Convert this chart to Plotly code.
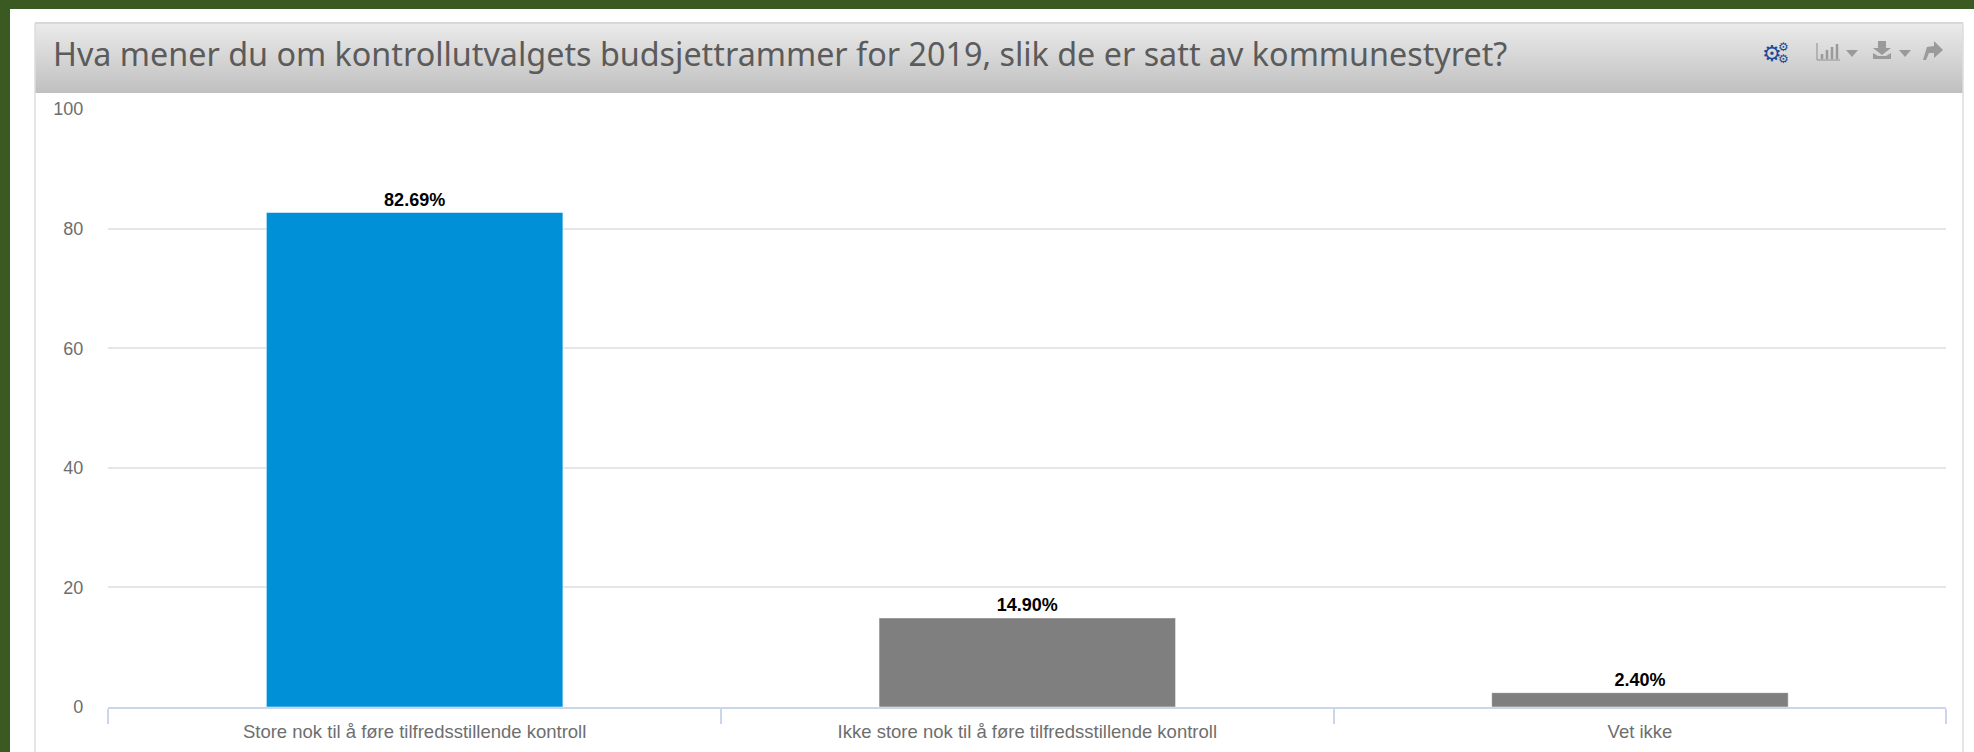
import plotly.graph_objects as go

categories = ["Store nok til å føre tilfredsstillende kontroll",
              "Ikke store nok til å føre tilfredsstillende kontroll",
              "Vet ikke"]
values = [82.69, 14.90, 2.40]
bar_colors = ["#0090d7", "#7f7f7f", "#7f7f7f"]
y_ticks = [0, 20, 40, 60, 80, 100]
title = "Hva mener du om kontrollutvalgets budsjettrammer for 2019, slik de er satt av kommunestyret?"

W, H = 1974, 752
GREEN = "#3a5a22"
PX0, PX1, PY0, PY1 = 108, 1946, 109, 707


def rect(x0, y0, x1, y1, fill, line=None, width=0):
    return dict(type="rect", xref="paper", yref="paper", layer="below",
                x0=x0 / W, x1=x1 / W, y0=1 - y0 / H, y1=1 - y1 / H,
                fillcolor=fill, line=dict(color=line or fill, width=width))


def hline(x0, y0, x1, y1, color, width=1):
    return dict(type="line", xref="paper", yref="paper", layer="below",
                x0=x0 / W, x1=x1 / W, y0=1 - y0 / H, y1=1 - y1 / H,
                line=dict(color=color, width=width))


shapes = [rect(0, 0, W, 9, GREEN), rect(0, 0, 10, H, GREEN)]
# header gradient
top, bot = 24, 93
c0, c1 = (234, 234, 234), (192, 192, 192)
for y in range(top, bot):
    t = (y - top) / (bot - top - 1)
    c = tuple(round(a + (b - a) * t) for a, b in zip(c0, c1))
    shapes.append(rect(35, y, 1963, y + 1, "rgb(%d,%d,%d)" % c))
shapes += [hline(35, 23, 1963, 23, "#d8d8d8", 2),
           hline(35, 23, 35, H, "#dddddd", 1.5),
           hline(1963, 23, 1963, H, "#dddddd", 1.5)]


def icon(path, color):
    return dict(type="path", xref="paper", yref="paper", layer="above", path=path,
                fillcolor=color, line=dict(color=color, width=0))


def pp(points):
    return "M" + " L".join("%.5f,%.5f" % (x / W, 1 - y / H) for x, y in points) + " Z"


GREY = "#9a9a9a"
# bar-chart icon
shapes.append(hline(1817, 43, 1817, 60, GREY, 1.2))
shapes.append(hline(1817, 60, 1840, 60, GREY, 1.2))
for x, t in [(1822, 54), (1827, 50), (1832, 47), (1837, 44)]:
    shapes.append(hline(x, t, x, 59, GREY, 2.5))
# caret icons
for x in (1846, 1899):
    shapes.append(icon(pp([(x, 50), (x + 12, 50), (x + 6, 57)]), GREY))
# download icon
shapes.append(icon(pp([(1878, 41), (1886, 41), (1886, 48), (1891, 48), (1882, 55), (1873, 48), (1878, 48)]), GREY))
shapes.append(icon(pp([(1873, 53), (1878, 56), (1886, 56), (1891, 53), (1891, 59), (1873, 59)]), GREY))
# share icon
shapes.append(icon(pp([(1943, 50), (1934, 41), (1934, 46), (1927, 47), (1923, 60), (1926, 60),
                       (1929, 53), (1934, 53), (1934, 58)]), GREY))

annotations = [
    dict(text=title, xref="paper", yref="paper", x=51 / W, y=1 - 53 / H, xanchor="left", yanchor="middle",
         showarrow=False, font=dict(family="Noto Sans", size=32.3, color="#5b5b5b")),
    dict(text="⚙", xref="paper", yref="paper", x=1772 / W, y=1 - 54 / H, xanchor="center", yanchor="middle",
         showarrow=False, font=dict(family="DejaVu Sans", size=22, color="#1a4b98")),
    dict(text="⚙", xref="paper", yref="paper", x=1783 / W, y=1 - 47 / H, xanchor="center", yanchor="middle",
         showarrow=False, font=dict(family="DejaVu Sans", size=12, color="#1a4b98")),
    dict(text="⚙", xref="paper", yref="paper", x=1783 / W, y=1 - 59 / H, xanchor="center", yanchor="middle",
         showarrow=False, font=dict(family="DejaVu Sans", size=12, color="#1a4b98")),
]

fig = go.Figure(go.Bar(
    x=categories, y=values, width=0.484,
    marker=dict(color=bar_colors, line=dict(color="rgba(255,255,255,0.5)", width=1)),
    texttemplate="%{y:.2f}%", textposition="outside", cliponaxis=False,
    textfont=dict(family="Liberation Sans", size=18, color="#000000", weight=700),
))
fig.update_layout(
    width=W, height=H, margin=dict(l=0, r=0, t=0, b=0), showlegend=False,
    paper_bgcolor="#ffffff", plot_bgcolor="#ffffff",
    shapes=shapes, annotations=annotations,
    font=dict(family="Liberation Sans", size=18, color="#666666"),
)
fig.update_xaxes(domain=[(PX0 + 0.3) / W, (PX1 + 0.3) / W], range=[-0.5, 2.5], type="category",
                 tickson="boundaries", ticks="outside", ticklen=15, tickwidth=2, tickcolor="#ccd6eb",
                 showline=True, linecolor="#ccd6eb", linewidth=2, showgrid=False, ticklabelstandoff=7,
                 tickfont=dict(family="Liberation Sans", size=18.5, color="#6e6e6e"), automargin=False)
fig.update_yaxes(domain=[1 - PY1 / H, 1 - PY0 / H], range=[0, 100], tickvals=y_ticks,
                 showgrid=True, gridcolor="#e4e6ea", gridwidth=2, zeroline=False, showline=False,
                 ticks="", ticklabelstandoff=24,
                 tickfont=dict(family="Liberation Sans", size=18, color="#6e6e6e"), automargin=False)
fig.write_html("out.html", config=dict(displayModeBar=False),
               post_script="document.body.style.margin='0';")
